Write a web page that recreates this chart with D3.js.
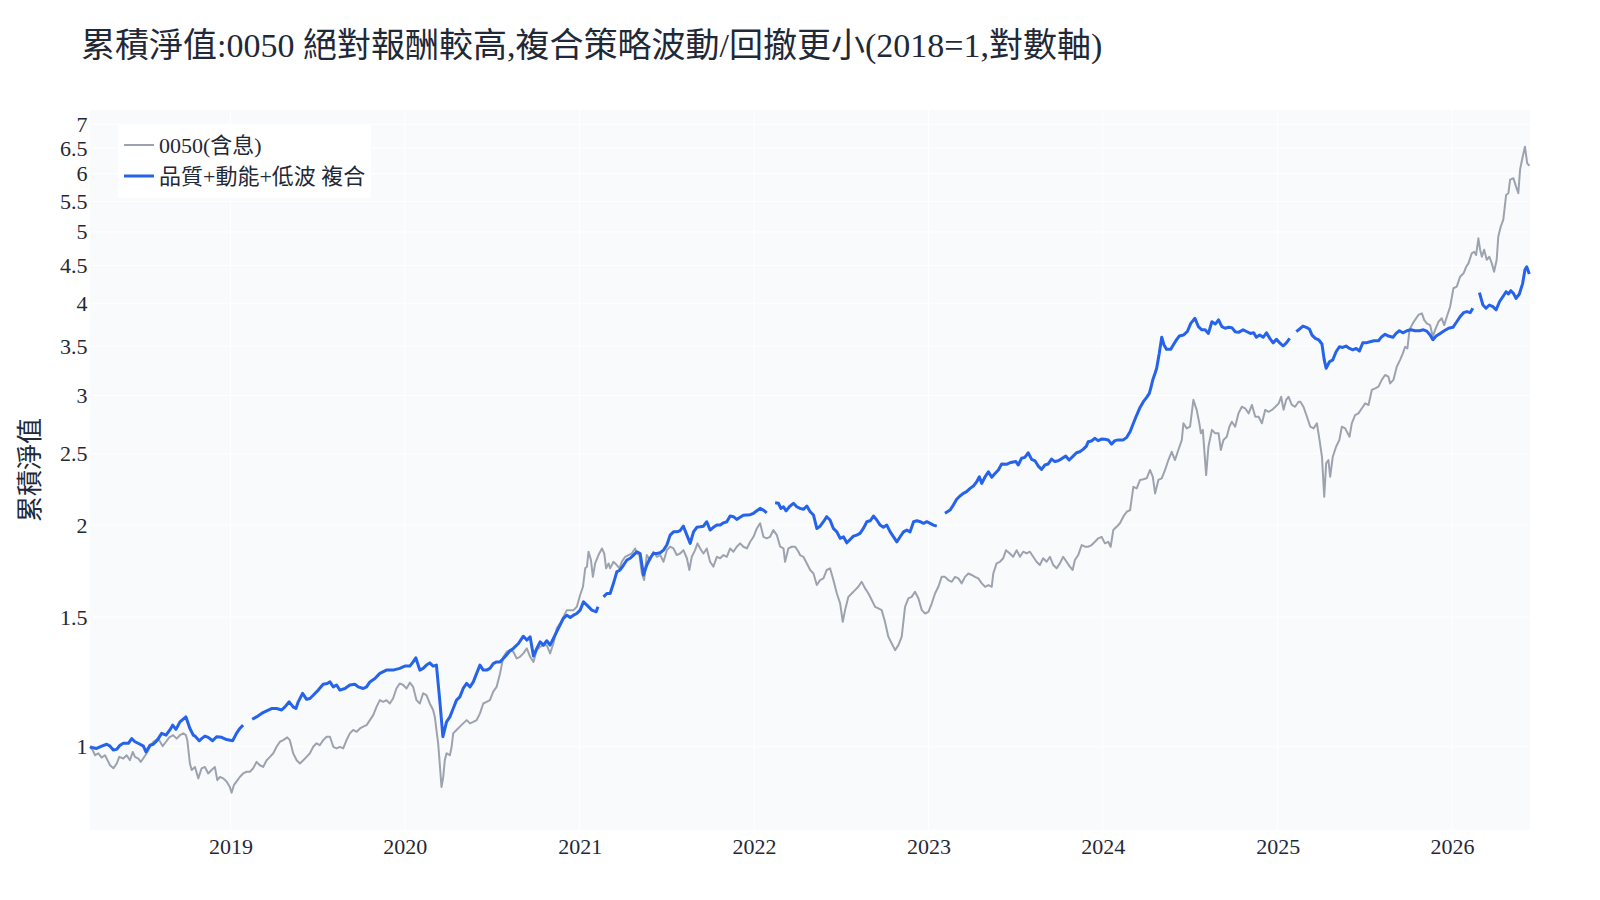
<!DOCTYPE html>
<html>
<head>
<meta charset="utf-8">
<script src="https://cdn.jsdelivr.net/npm/d3@7"></script>
<style>
    body { margin: 0; background: #ffffff; }
    svg text { font-family: "Liberation Serif", "Noto Sans CJK TC", serif; }
</style>
</head>
<body>
<svg id="chart"></svg>
<script>
const titleText = "累積淨值:0050 絕對報酬較高,複合策略波動/回撤更小(2018=1,對數軸)";
const yAxisTitle = "累積淨值";
const seriesNames = ["0050(含息)", "品質+動能+低波 複合"];
const yTickValues = [1, 1.5, 2, 2.5, 3, 3.5, 4, 4.5, 5, 5.5, 6, 6.5, 7];
const yRange = [0.771, 7.32];
const xRange = [2018.195, 2026.447];

// [decimal year, cumulative NAV]
const nav0050 = [
    [2018.195,1.000],[2018.210,0.990],[2018.224,0.974],[2018.243,0.980],[2018.262,0.967],[2018.281,0.974],[2018.310,0.944],[2018.329,0.935],[2018.348,0.949],[2018.363,0.969],
    [2018.386,0.964],[2018.405,0.974],[2018.424,0.959],[2018.440,0.984],[2018.453,0.969],[2018.472,0.964],[2018.486,0.954],[2018.500,0.964],[2018.520,0.980],[2018.539,1.000],
    [2018.558,1.016],[2018.586,1.026],[2018.612,1.002],[2018.631,1.016],[2018.650,1.030],[2018.672,1.037],[2018.692,1.026],[2018.711,1.037],[2018.730,1.043],[2018.745,1.037],
    [2018.753,1.021],[2018.768,0.949],[2018.778,0.930],[2018.797,0.939],[2018.816,0.906],[2018.835,0.935],[2018.854,0.939],[2018.873,0.920],[2018.892,0.930],[2018.911,0.939],
    [2018.925,0.901],[2018.940,0.910],[2018.959,0.906],[2018.978,0.897],[2018.997,0.882],[2019.007,0.866],[2019.020,0.887],[2019.035,0.897],[2019.054,0.910],[2019.073,0.920],
    [2019.093,0.925],[2019.112,0.925],[2019.131,0.935],[2019.150,0.954],[2019.169,0.944],[2019.188,0.939],[2019.208,0.959],[2019.227,0.969],[2019.246,0.980],[2019.265,1.000],
    [2019.284,1.016],[2019.303,1.021],[2019.326,1.030],[2019.341,1.021],[2019.360,0.980],[2019.380,0.959],[2019.399,0.949],[2019.418,0.959],[2019.437,0.969],[2019.456,0.980],
    [2019.475,1.000],[2019.494,1.011],[2019.513,1.005],[2019.532,1.021],[2019.552,1.032],[2019.571,1.032],[2019.590,1.000],[2019.609,0.995],[2019.628,1.000],[2019.647,0.995],
    [2019.666,1.021],[2019.685,1.043],[2019.704,1.054],[2019.724,1.048],[2019.743,1.059],[2019.762,1.065],[2019.781,1.070],[2019.800,1.087],[2019.819,1.104],[2019.838,1.133],
    [2019.857,1.157],[2019.876,1.151],[2019.895,1.157],[2019.914,1.145],[2019.933,1.163],[2019.952,1.200],[2019.971,1.219],[2019.991,1.213],[2020.010,1.200],[2020.029,1.222],
    [2020.048,1.206],[2020.067,1.157],[2020.086,1.145],[2020.105,1.182],[2020.124,1.175],[2020.143,1.145],[2020.162,1.122],[2020.172,1.098],[2020.181,1.054],[2020.191,1.011],
    [2020.200,0.949],[2020.210,0.882],[2020.220,0.910],[2020.229,0.959],[2020.239,0.980],[2020.258,0.974],[2020.268,1.000],[2020.277,1.043],[2020.296,1.054],[2020.315,1.065],
    [2020.334,1.076],[2020.354,1.087],[2020.373,1.076],[2020.392,1.081],[2020.411,1.087],[2020.430,1.110],[2020.449,1.145],[2020.468,1.151],[2020.487,1.157],[2020.506,1.188],
    [2020.525,1.206],[2020.545,1.258],[2020.564,1.325],[2020.583,1.346],[2020.602,1.353],[2020.621,1.346],[2020.640,1.318],[2020.659,1.325],[2020.678,1.339],[2020.698,1.360],
    [2020.717,1.325],[2020.736,1.304],[2020.755,1.353],[2020.774,1.367],[2020.793,1.374],[2020.812,1.374],[2020.831,1.339],[2020.850,1.381],[2020.869,1.448],[2020.888,1.471],
    [2020.907,1.501],[2020.927,1.533],[2020.946,1.533],[2020.965,1.533],[2020.984,1.549],[2021.003,1.607],[2021.019,1.649],[2021.032,1.747],[2021.042,1.756],[2021.051,1.840],
    [2021.065,1.793],[2021.076,1.701],[2021.089,1.774],[2021.108,1.821],[2021.128,1.859],[2021.141,1.830],[2021.152,1.747],[2021.166,1.774],[2021.175,1.747],[2021.194,1.783],
    [2021.213,1.765],[2021.228,1.747],[2021.242,1.783],[2021.261,1.811],[2021.280,1.821],[2021.299,1.830],[2021.318,1.859],[2021.328,1.830],[2021.343,1.821],[2021.357,1.719],
    [2021.370,1.684],[2021.385,1.821],[2021.404,1.793],[2021.423,1.840],[2021.443,1.811],[2021.462,1.821],[2021.481,1.783],[2021.500,1.849],[2021.519,1.869],[2021.538,1.859],
    [2021.557,1.821],[2021.576,1.830],[2021.595,1.849],[2021.615,1.803],[2021.629,1.738],[2021.643,1.811],[2021.662,1.849],[2021.676,1.889],[2021.691,1.859],[2021.710,1.830],
    [2021.729,1.859],[2021.748,1.783],[2021.767,1.756],[2021.787,1.811],[2021.806,1.803],[2021.825,1.821],[2021.844,1.811],[2021.863,1.859],[2021.882,1.840],[2021.901,1.869],
    [2021.920,1.889],[2021.939,1.869],[2021.959,1.859],[2021.978,1.898],[2021.997,1.928],[2022.016,1.979],[2022.035,2.011],[2022.054,1.928],[2022.073,1.919],[2022.092,1.928],
    [2022.111,1.969],[2022.131,1.938],[2022.150,1.869],[2022.169,1.859],[2022.178,1.783],[2022.197,1.859],[2022.217,1.869],[2022.236,1.869],[2022.255,1.840],[2022.264,1.821],
    [2022.283,1.811],[2022.303,1.774],[2022.322,1.738],[2022.341,1.719],[2022.360,1.658],[2022.379,1.684],[2022.398,1.693],[2022.417,1.738],[2022.436,1.747],[2022.455,1.684],
    [2022.475,1.615],[2022.494,1.565],[2022.509,1.478],[2022.522,1.533],[2022.541,1.598],[2022.560,1.615],[2022.579,1.632],[2022.598,1.649],[2022.617,1.675],[2022.637,1.641],
    [2022.656,1.615],[2022.675,1.582],[2022.694,1.549],[2022.713,1.541],[2022.732,1.533],[2022.751,1.478],[2022.770,1.411],[2022.789,1.382],[2022.809,1.353],[2022.828,1.374],
    [2022.847,1.411],[2022.866,1.549],[2022.885,1.590],[2022.904,1.598],[2022.923,1.624],[2022.943,1.590],[2022.962,1.533],[2022.981,1.517],[2023.000,1.525],[2023.019,1.565],
    [2023.038,1.615],[2023.057,1.649],[2023.076,1.701],[2023.095,1.701],[2023.114,1.684],[2023.134,1.675],[2023.153,1.701],[2023.172,1.693],[2023.191,1.667],[2023.210,1.701],
    [2023.229,1.719],[2023.248,1.711],[2023.267,1.701],[2023.286,1.693],[2023.306,1.667],[2023.325,1.649],[2023.344,1.658],[2023.363,1.649],[2023.372,1.719],[2023.391,1.774],
    [2023.410,1.783],[2023.429,1.803],[2023.445,1.849],[2023.467,1.830],[2023.486,1.811],[2023.506,1.849],[2023.525,1.811],[2023.544,1.840],[2023.563,1.830],[2023.582,1.840],
    [2023.601,1.811],[2023.620,1.783],[2023.639,1.765],[2023.658,1.803],[2023.678,1.783],[2023.697,1.811],[2023.716,1.765],[2023.735,1.747],[2023.754,1.774],[2023.773,1.811],
    [2023.792,1.783],[2023.811,1.756],[2023.827,1.738],[2023.840,1.793],[2023.859,1.821],[2023.879,1.879],[2023.898,1.869],[2023.917,1.869],[2023.936,1.879],[2023.955,1.898],
    [2023.974,1.919],[2023.993,1.928],[2024.012,1.889],[2024.031,1.898],[2024.045,1.869],[2024.060,1.969],[2024.079,1.989],[2024.098,2.011],[2024.117,2.053],[2024.137,2.085],
    [2024.156,2.096],[2024.175,2.254],[2024.194,2.243],[2024.213,2.303],[2024.232,2.308],[2024.251,2.315],[2024.270,2.376],[2024.286,2.326],[2024.299,2.208],[2024.318,2.303],
    [2024.337,2.315],[2024.356,2.376],[2024.375,2.451],[2024.394,2.515],[2024.413,2.451],[2024.432,2.529],[2024.452,2.610],[2024.461,2.749],[2024.480,2.706],[2024.499,2.720],
    [2024.518,2.958],[2024.537,2.867],[2024.552,2.749],[2024.561,2.664],[2024.572,2.693],[2024.591,2.338],[2024.604,2.555],[2024.624,2.693],[2024.643,2.664],[2024.662,2.664],
    [2024.675,2.529],[2024.690,2.610],[2024.709,2.636],[2024.724,2.720],[2024.738,2.763],[2024.757,2.720],[2024.776,2.836],[2024.795,2.895],[2024.814,2.881],[2024.834,2.836],
    [2024.853,2.911],[2024.872,2.806],[2024.891,2.806],[2024.910,2.749],[2024.929,2.867],[2024.948,2.850],[2024.968,2.867],[2024.987,2.895],[2025.006,2.926],[2025.020,2.987],
    [2025.034,2.867],[2025.049,2.958],[2025.062,2.987],[2025.081,2.911],[2025.100,2.895],[2025.120,2.941],[2025.130,2.941],[2025.148,2.895],[2025.168,2.806],[2025.187,2.720],
    [2025.206,2.706],[2025.225,2.749],[2025.240,2.610],[2025.254,2.476],[2025.267,2.185],[2025.278,2.425],[2025.291,2.451],[2025.301,2.326],[2025.316,2.476],[2025.335,2.555],
    [2025.354,2.610],[2025.368,2.720],[2025.387,2.706],[2025.412,2.636],[2025.425,2.749],[2025.444,2.821],[2025.463,2.836],[2025.483,2.881],[2025.502,2.926],[2025.521,2.911],
    [2025.540,3.052],[2025.559,3.067],[2025.578,3.083],[2025.597,3.149],[2025.616,3.197],[2025.635,3.181],[2025.645,3.114],[2025.664,3.149],[2025.683,3.281],[2025.702,3.352],
    [2025.718,3.421],[2025.731,3.492],[2025.744,3.474],[2025.756,3.682],[2025.775,3.757],[2025.788,3.799],[2025.807,3.857],[2025.827,3.877],[2025.840,3.799],[2025.855,3.757],
    [2025.874,3.737],[2025.890,3.604],[2025.903,3.682],[2025.922,3.776],[2025.941,3.817],[2025.955,3.737],[2025.970,3.836],[2025.989,3.958],[2026.008,4.193],[2026.027,4.214],
    [2026.046,4.347],[2026.066,4.393],[2026.081,4.484],[2026.094,4.532],[2026.113,4.676],[2026.127,4.700],[2026.138,4.652],[2026.151,4.901],[2026.161,4.730],[2026.171,4.627],
    [2026.184,4.730],[2026.199,4.584],[2026.214,4.627],[2026.228,4.532],[2026.241,4.415],[2026.256,4.584],[2026.265,4.926],[2026.279,5.082],[2026.294,5.195],[2026.310,5.612],
    [2026.323,5.642],[2026.333,5.888],[2026.352,5.913],[2026.367,5.760],[2026.380,5.642],[2026.390,6.075],[2026.405,6.325],[2026.418,6.527],[2026.431,6.195],[2026.444,6.150]
];

// null = no value that week (holiday gaps)
const navComposite = [
    [2018.195,1.000],[2018.205,0.998],[2018.233,0.995],[2018.262,1.002],[2018.291,1.008],[2018.310,1.002],[2018.329,0.990],[2018.348,0.992],[2018.367,1.005],[2018.386,1.011],
    [2018.415,1.011],[2018.434,1.026],[2018.453,1.016],[2018.482,1.008],[2018.501,1.002],[2018.516,0.984],[2018.539,1.005],[2018.558,1.008],[2018.581,1.021],[2018.606,1.043],
    [2018.631,1.037],[2018.653,1.054],[2018.669,1.070],[2018.688,1.056],[2018.711,1.081],[2018.745,1.098],[2018.768,1.059],[2018.787,1.037],[2018.797,1.034],[2018.821,1.019],
    [2018.835,1.026],[2018.854,1.034],[2018.873,1.030],[2018.898,1.019],[2018.921,1.032],[2018.950,1.030],[2018.978,1.023],[2019.013,1.019],[2019.035,1.043],[2019.054,1.059],
    [2019.073,1.070],[2019.099,null],[2019.125,1.090],[2019.150,1.098],[2019.179,1.110],[2019.208,1.119],[2019.236,1.127],[2019.265,1.127],[2019.294,1.122],[2019.313,1.133],
    [2019.337,1.151],[2019.360,1.133],[2019.376,1.127],[2019.389,1.151],[2019.414,1.182],[2019.437,1.160],[2019.456,1.163],[2019.475,1.175],[2019.504,1.194],[2019.532,1.216],
    [2019.555,1.219],[2019.571,1.225],[2019.590,1.206],[2019.609,1.213],[2019.628,1.194],[2019.657,1.200],[2019.685,1.213],[2019.714,1.216],[2019.733,1.206],[2019.762,1.200],
    [2019.781,1.206],[2019.800,1.225],[2019.829,1.238],[2019.857,1.258],[2019.895,1.271],[2019.933,1.271],[2019.971,1.278],[2020.000,1.287],[2020.029,1.287],[2020.048,1.304],
    [2020.063,1.321],[2020.086,1.271],[2020.105,1.278],[2020.124,1.291],[2020.143,1.300],[2020.162,1.287],[2020.181,1.291],[2020.200,1.157],[2020.218,1.032],[2020.239,1.081],
    [2020.258,1.098],[2020.277,1.127],[2020.296,1.157],[2020.315,1.169],[2020.334,1.200],[2020.354,1.219],[2020.373,1.206],[2020.392,1.225],[2020.411,1.258],[2020.430,1.291],
    [2020.449,1.271],[2020.468,1.271],[2020.487,1.278],[2020.506,1.297],[2020.525,1.304],[2020.545,1.304],[2020.573,1.325],[2020.602,1.350],[2020.621,1.360],[2020.650,1.381],
    [2020.678,1.413],[2020.698,1.396],[2020.717,1.410],[2020.736,1.328],[2020.755,1.360],[2020.774,1.388],[2020.793,1.374],[2020.812,1.393],[2020.831,1.374],[2020.850,1.403],
    [2020.869,1.433],[2020.888,1.463],[2020.907,1.494],[2020.927,1.509],[2020.946,1.498],[2020.965,1.509],[2020.984,1.517],[2021.003,1.533],[2021.022,1.573],[2021.042,1.557],
    [2021.070,1.533],[2021.095,1.525],[2021.105,1.549],[2021.121,null],[2021.137,1.598],[2021.156,1.615],[2021.175,1.615],[2021.194,1.667],[2021.213,1.728],[2021.232,1.738],
    [2021.252,1.765],[2021.271,1.793],[2021.290,1.803],[2021.309,1.821],[2021.328,1.840],[2021.347,1.830],[2021.366,1.711],[2021.385,1.765],[2021.404,1.803],[2021.423,1.830],
    [2021.443,1.830],[2021.462,1.834],[2021.481,1.849],[2021.500,1.879],[2021.519,1.938],[2021.538,1.958],[2021.557,1.958],[2021.576,1.965],[2021.595,1.993],[2021.615,1.938],
    [2021.634,1.889],[2021.653,1.958],[2021.672,1.986],[2021.691,1.989],[2021.710,1.993],[2021.729,2.021],[2021.748,1.969],[2021.767,1.986],[2021.787,2.000],[2021.806,2.000],
    [2021.825,2.014],[2021.844,2.021],[2021.863,2.057],[2021.882,2.053],[2021.901,2.036],[2021.920,2.049],[2021.939,2.062],[2021.959,2.064],[2021.978,2.066],[2021.997,2.075],
    [2022.016,2.091],[2022.035,2.107],[2022.054,2.096],[2022.073,2.078],[2022.097,null],[2022.121,2.145],[2022.140,2.141],[2022.154,2.107],[2022.169,2.118],[2022.184,2.091],
    [2022.203,2.118],[2022.226,2.141],[2022.245,2.118],[2022.264,2.107],[2022.283,2.101],[2022.303,2.123],[2022.322,2.085],[2022.341,2.064],[2022.360,1.979],[2022.379,1.993],
    [2022.398,2.021],[2022.417,2.053],[2022.436,2.032],[2022.455,1.979],[2022.475,1.958],[2022.494,1.919],[2022.513,1.928],[2022.532,1.892],[2022.551,1.912],[2022.570,1.932],
    [2022.589,1.938],[2022.608,1.949],[2022.627,1.979],[2022.647,2.021],[2022.666,2.027],[2022.685,2.057],[2022.704,2.032],[2022.723,2.000],[2022.742,1.986],[2022.761,2.000],
    [2022.781,1.958],[2022.800,1.928],[2022.819,1.898],[2022.838,1.928],[2022.857,1.958],[2022.876,1.969],[2022.895,1.958],[2022.915,2.021],[2022.934,2.027],[2022.953,2.021],
    [2022.972,2.011],[2022.991,2.021],[2023.010,2.011],[2023.029,2.000],[2023.048,1.993],[2023.071,null],[2023.095,2.075],[2023.124,2.096],[2023.143,2.129],[2023.162,2.168],
    [2023.181,2.190],[2023.200,2.208],[2023.219,2.220],[2023.239,2.243],[2023.258,2.259],[2023.277,2.290],[2023.292,2.326],[2023.306,2.278],[2023.325,2.326],[2023.344,2.362],
    [2023.363,2.322],[2023.382,2.350],[2023.401,2.376],[2023.420,2.421],[2023.448,2.418],[2023.467,2.430],[2023.486,2.436],[2023.502,2.439],[2023.515,2.413],[2023.534,2.464],
    [2023.553,2.471],[2023.572,2.507],[2023.592,2.456],[2023.611,2.445],[2023.630,2.405],[2023.649,2.380],[2023.668,2.413],[2023.687,2.421],[2023.706,2.458],[2023.725,2.439],
    [2023.744,2.445],[2023.763,2.460],[2023.788,2.481],[2023.807,2.451],[2023.830,2.481],[2023.849,2.507],[2023.868,2.515],[2023.887,2.534],[2023.906,2.560],[2023.916,2.595],
    [2023.935,2.601],[2023.954,2.623],[2023.973,2.604],[2023.993,2.617],[2024.012,2.615],[2024.031,2.610],[2024.050,2.576],[2024.069,2.604],[2024.089,2.610],[2024.117,2.610],
    [2024.137,2.631],[2024.156,2.677],[2024.175,2.749],[2024.194,2.821],[2024.213,2.889],[2024.232,2.941],[2024.251,2.981],[2024.266,3.018],[2024.274,3.067],[2024.286,3.149],
    [2024.299,3.214],[2024.308,3.265],[2024.323,3.421],[2024.337,3.597],[2024.350,3.511],[2024.365,3.464],[2024.388,3.464],[2024.403,3.511],[2024.423,3.574],[2024.438,3.611],
    [2024.461,3.622],[2024.483,3.660],[2024.503,3.757],[2024.527,3.817],[2024.547,3.718],[2024.566,3.682],[2024.585,3.682],[2024.604,3.641],[2024.624,3.776],[2024.643,3.749],
    [2024.662,3.799],[2024.681,3.718],[2024.700,3.700],[2024.719,3.711],[2024.738,3.707],[2024.757,3.660],[2024.776,3.653],[2024.802,3.682],[2024.825,3.660],[2024.844,3.641],
    [2024.863,3.648],[2024.878,3.597],[2024.897,3.622],[2024.917,3.597],[2024.936,3.648],[2024.955,3.585],[2024.974,3.535],[2024.993,3.574],[2025.012,3.535],[2025.031,3.500],
    [2025.050,3.535],[2025.069,3.585],[2025.088,null],[2025.107,3.660],[2025.130,3.700],[2025.145,3.726],[2025.164,3.711],[2025.183,3.688],[2025.197,3.622],[2025.216,3.585],
    [2025.235,3.569],[2025.254,3.522],[2025.267,3.352],[2025.278,3.265],[2025.297,3.332],[2025.316,3.352],[2025.335,3.438],[2025.354,3.492],[2025.373,3.485],[2025.392,3.500],
    [2025.412,3.474],[2025.431,3.459],[2025.450,3.474],[2025.469,3.446],[2025.488,3.535],[2025.507,3.535],[2025.530,3.547],[2025.553,3.558],[2025.578,3.558],[2025.597,3.604],
    [2025.616,3.631],[2025.635,3.611],[2025.661,3.597],[2025.679,3.641],[2025.698,3.671],[2025.718,3.648],[2025.741,3.671],[2025.763,3.682],[2025.788,3.671],[2025.813,3.671],
    [2025.836,3.682],[2025.855,3.667],[2025.874,3.622],[2025.890,3.569],[2025.909,3.611],[2025.932,3.641],[2025.955,3.671],[2025.980,3.700],[2026.005,3.711],[2026.027,3.776],
    [2026.046,3.836],[2026.066,3.885],[2026.085,3.898],[2026.104,3.885],[2026.119,3.939],[2026.138,null],[2026.157,4.135],[2026.177,3.979],[2026.195,3.939],[2026.214,3.979],
    [2026.234,3.958],[2026.253,3.920],[2026.272,4.020],[2026.291,4.083],[2026.310,4.148],[2026.323,4.118],[2026.337,4.161],[2026.352,4.127],[2026.367,4.062],[2026.386,4.118],
    [2026.405,4.258],[2026.418,4.443],[2026.428,4.484],[2026.443,4.384]
];

const seriesColors = ["#9ca3af", "#2563eb"];
const seriesWidths = [2, 3];

function yearToDate(t) {
    const y = Math.floor(t);
    const start = new Date(y, 0, 1), end = new Date(y + 1, 0, 1);
    return new Date(+start + (t - y) * (end - start));
}

class NavChart {

    constructor(elementId, width, height, margin) {
        this.elementId = '#' + elementId;
        this.width = width;
        this.height = height;
        this.margin = margin;
        this.textColor = "#1f2937";
    }

    init() {
        this.svg = d3.select(this.elementId)
            .attr("width", this.width)
            .attr("height", this.height);

        const m = this.margin;
        this.plotW = this.width - m.left - m.right;
        this.plotH = this.height - m.top - m.bottom;

        this.xScale = d3.scaleTime()
            .domain(xRange.map(yearToDate))
            .range([m.left, m.left + this.plotW]);

        this.yScale = d3.scaleLog()
            .domain(yRange)
            .range([m.top + this.plotH, m.top]);

        this.svg.append("rect")
            .attr("x", m.left)
            .attr("y", m.top)
            .attr("width", this.plotW)
            .attr("height", this.plotH)
            .attr("fill", "#f9fafb");

        // grid
        let grid = this.svg.append("g").attr("class", "grid");
        grid.selectAll(".gx")
            .data(this.xScale.ticks(d3.timeYear.every(1)))
            .enter().append("line")
            .attr("x1", d => this.xScale(d)).attr("x2", d => this.xScale(d))
            .attr("y1", m.top).attr("y2", m.top + this.plotH)
            .attr("stroke", "#ffffff").attr("stroke-width", 1);
        grid.selectAll(".gy")
            .data(yTickValues)
            .enter().append("line")
            .attr("x1", m.left).attr("x2", m.left + this.plotW)
            .attr("y1", d => this.yScale(d)).attr("y2", d => this.yScale(d))
            .attr("stroke", "#ffffff").attr("stroke-width", 1);

        // axes
        let xAxis = this.svg.append("g")
            .attr("transform", "translate(0," + (m.top + this.plotH) + ")")
            .call(d3.axisBottom(this.xScale)
                .ticks(d3.timeYear.every(1))
                .tickFormat(d3.timeFormat("%Y"))
                .tickSize(0)
                .tickPadding(8));
        let yAxis = this.svg.append("g")
            .attr("transform", "translate(" + m.left + ",0)")
            .call(d3.axisLeft(this.yScale)
                .tickValues(yTickValues)
                .tickFormat(d => String(d))
                .tickSize(0)
                .tickPadding(2.5));
        for (let ax of [xAxis, yAxis]) {
            ax.select(".domain").remove();
            ax.attr("font-family", null)
                .attr("font-size", 22)
                .style("color", this.textColor);
        }

        this.svg.append("text")
            .attr("x", 81)
            .attr("y", 57)
            .attr("font-size", 34)
            .attr("fill", this.textColor)
            .text(titleText);

        this.svg.append("text")
            .attr("transform", "translate(39," + (m.top + this.plotH / 2) + ") rotate(-90)")
            .attr("text-anchor", "middle")
            .attr("font-size", 26)
            .attr("fill", this.textColor)
            .text(yAxisTitle);

        this.lineGroup = this.svg.append("g").attr("class", "lines");
    }

    draw(series) {
        const line = d3.line()
            .defined(d => d[1] != null)
            .x(d => this.xScale(yearToDate(d[0])))
            .y(d => this.yScale(d[1]));

        this.lineGroup.selectAll("path")
            .data(series)
            .enter().append("path")
            .attr("d", d => line(d))
            .attr("fill", "none")
            .attr("stroke", (d, i) => seriesColors[i])
            .attr("stroke-width", (d, i) => seriesWidths[i])
            .attr("stroke-linejoin", "round");

        this.createLegend();
    }

    createLegend() {
        let legend = this.svg.append("g")
            .attr("transform", "translate(118,124)");
        legend.append("rect")
            .attr("width", 253)
            .attr("height", 74)
            .attr("fill", "#ffffff");

        let items = legend.selectAll(".item")
            .data(seriesNames)
            .enter().append("g")
            .attr("transform", (d, i) => "translate(0," + (21 + i * 31) + ")");
        items.append("line")
            .attr("x1", 6).attr("x2", 36)
            .attr("stroke", (d, i) => seriesColors[i])
            .attr("stroke-width", (d, i) => seriesWidths[i]);
        items.append("text")
            .attr("x", 41)
            .attr("dy", "0.35em")
            .attr("font-size", 22)
            .attr("fill", this.textColor)
            .text(d => d);
    }
}

const chart = new NavChart("chart", 1600, 900, {top: 110, right: 70, bottom: 70, left: 90});
chart.init();
chart.draw([nav0050, navComposite]);
</script>
</body>
</html>
